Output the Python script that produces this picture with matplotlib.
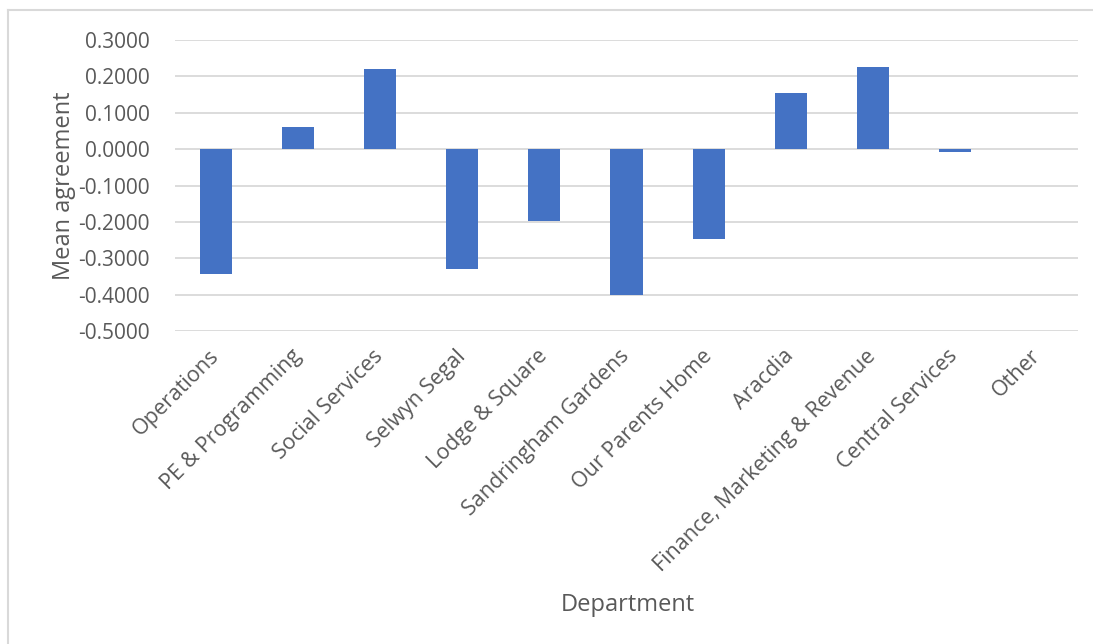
import matplotlib.pyplot as plt
from matplotlib.lines import Line2D
import numpy as np

# data
departments = ['Operations', 'PE & Programming', 'Social Services', 'Selwyn Segal',
               'Lodge & Square', 'Sandringham Gardens', 'Our Parents Home', 'Aracdia',
               'Finance, Marketing & Revenue', 'Central Services', 'Other']
mean_agreement = [-0.342, 0.060, 0.219, -0.329, -0.197, -0.401, -0.247, 0.154,
                  0.227, -0.008, 0.0]
y_ticks = [0.3, 0.2, 0.1, 0.0, -0.1, -0.2, -0.3, -0.4, -0.5]

plt.rcParams['font.family'] = ['Open Sans', 'DejaVu Sans']
txt = '#595959'

fig = plt.figure(figsize=(10.93, 6.44), dpi=100)
ax = fig.add_axes([175 / 1093, 1 - 331 / 644, (1078 - 175) / 1093, (331 - 40) / 644])

x = np.arange(len(departments))
ax.bar(x, mean_agreement, width=0.39, color='#4472C4', zorder=3)

ax.set_xlim(-0.5, len(departments) - 0.5)
ax.set_ylim(-0.5, 0.3)
ax.set_yticks(y_ticks)
ax.set_yticklabels([f'{v:.4f}' for v in y_ticks])
ax.yaxis.grid(True, color='#D9D9D9', linewidth=1.3, zorder=0)
ax.set_xticks(x)
ax.set_xticklabels(departments, rotation=45, ha='right', va='center',
                   rotation_mode='anchor')
ax.tick_params(axis='both', length=0, labelsize=15, colors=txt)
ax.tick_params(axis='x', labelsize=15.5, pad=16)
ax.tick_params(axis='y', pad=18)
for s in ax.spines.values():
    s.set_visible(False)

ax.set_ylabel('Mean agreement', fontsize=17, color=txt, labelpad=2)
fig.text(628 / 1093, 1 - 605 / 644, 'Department', fontsize=17, color=txt,
         ha='center', va='center')

# chart area border (top and left visible)
fig.add_artist(Line2D([8 / 1093, 8 / 1093], [0, 1 - 10 / 644], color='#D9D9D9',
                      linewidth=1.5, transform=fig.transFigure))
fig.add_artist(Line2D([8 / 1093, 1], [1 - 10 / 644, 1 - 10 / 644], color='#D9D9D9',
                      linewidth=1.5, transform=fig.transFigure))

fig.savefig('out.png', dpi=100)
